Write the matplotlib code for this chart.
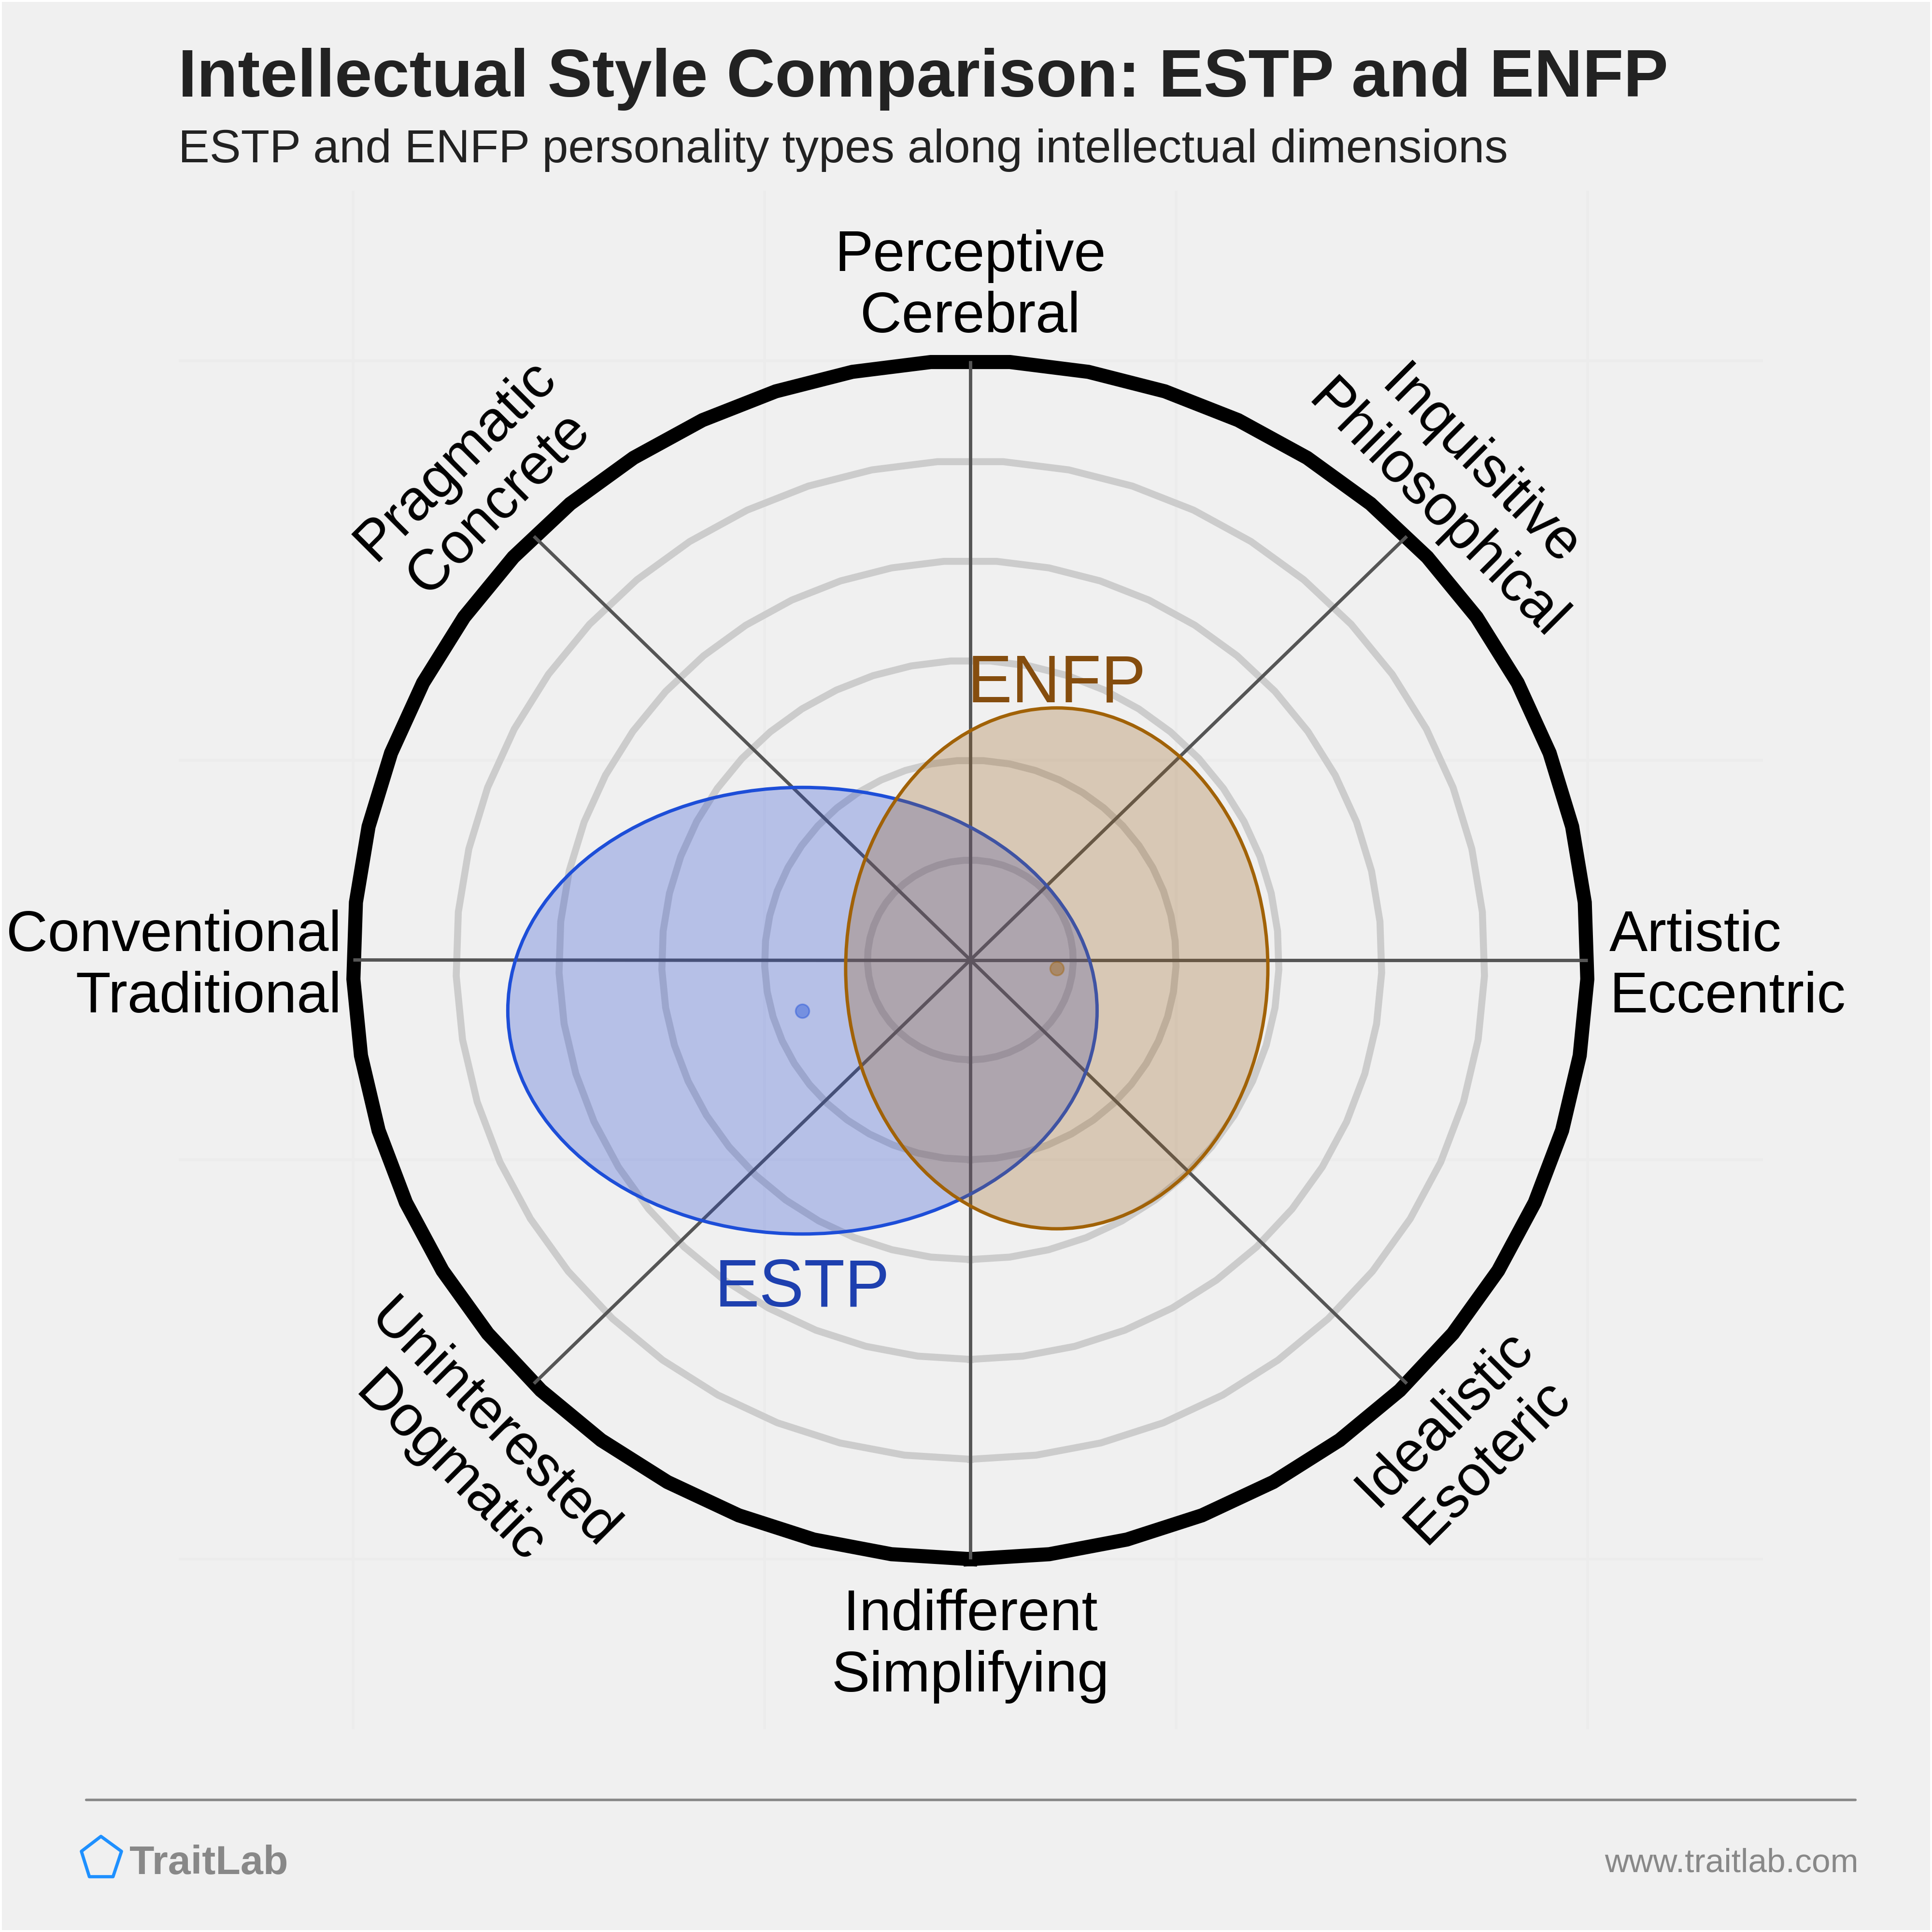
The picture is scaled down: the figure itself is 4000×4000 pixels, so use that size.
import numpy as np
import matplotlib
matplotlib.use("Agg")
import matplotlib.pyplot as plt
from matplotlib.patches import Ellipse, Polygon, Rectangle

plt.rcParams['font.family'] = ['Liberation Sans', 'DejaVu Sans']

title = "Intellectual Style Comparison: ESTP and ENFP"
subtitle = "ESTP and ENFP personality types along intellectual dimensions"
axis_labels = ["Artistic\nEccentric", "Inquisitive\nPhilosophical", "Perceptive\nCerebral",
               "Pragmatic\nConcrete", "Conventional\nTraditional", "Uninterested\nDogmatic",
               "Indifferent\nSimplifying", "Idealistic\nEsoteric"]
spoke_angles = [0, 45, 90, 135, 180, 225, 270, 315]
ring_levels = [0.25, 0.5, 0.75, 1.0, 1.25]
outer_level = 1.5
grid_ticks = [-1.5, -0.5, 0.5, 1.5]
types = ["ESTP", "ENFP"]
centers_x = [-0.408, 0.210]
centers_y = [-0.127, -0.021]
semi_x = [0.716, 0.513]
semi_y = [0.559, 0.652]
edge_colors = ["#1d4ed8", "#a16207"]
fill_colors = [(33/255, 69/255, 211/255, 0.28), (154/255, 97/255, 29/255, 0.28)]
text_colors = ["#1e40af", "#854d0e"]

W = 4000.0
CX, CY = 2009.0, 1987.5
UX, UY = 852.0, 827.0
L, R, T, B = 370.0, 3650.0, 395.0, 3580.0

fig = plt.figure(figsize=(10, 10), dpi=400, facecolor="white")
fig.add_artist(Rectangle((4/W, 4/W), 1-8/W, 1-8/W, transform=fig.transFigure,
                         facecolor="#f0f0f0", edgecolor="none", zorder=-10))
ax = fig.add_axes([L/W, 1-B/W, (R-L)/W, (B-T)/W])
ax.set_facecolor("none")
ax.set_xlim((L-CX)/UX, (R-CX)/UX)
ax.set_ylim((CY-B)/UY, (CY-T)/UY)
for s in ax.spines.values():
    s.set_visible(False)
ax.set_xticks(grid_ticks)
ax.set_yticks(grid_ticks)
ax.tick_params(length=0, labelbottom=False, labelleft=False)
ax.grid(True, color="#ececec", lw=1.0)
ax.set_axisbelow(True)

theta = np.linspace(-np.pi/2, 3*np.pi/2, 50)
for r in ring_levels:
    ax.plot(r*np.cos(theta), r*np.sin(theta), color="#cccccc", lw=2.6, zorder=2, clip_on=False)
ax.plot(outer_level*np.cos(theta), outer_level*np.sin(theta), color="black", lw=5.25, zorder=2,
        solid_joinstyle="miter", clip_on=False)
for a in spoke_angles:
    t = np.deg2rad(a)
    ax.plot([0, outer_level*np.cos(t)], [0, outer_level*np.sin(t)], color="#555555", lw=1.25,
            zorder=3, solid_capstyle="butt")

for i in range(2):
    ax.add_patch(Ellipse((centers_x[i], centers_y[i]), 2*semi_x[i], 2*semi_y[i],
                         facecolor=fill_colors[i],
                         edgecolor=edge_colors[i], lw=1.25, zorder=4+i))
    ax.scatter([centers_x[i]], [centers_y[i]], s=26, color=edge_colors[i], alpha=0.42, zorder=4+i,
               linewidths=0.6)

def d(px, py):
    return (px-CX)/UX, (CY-py)/UY

label_pos = [(3332, 2002, "left", 0), (3018, 1013, "center", -45), (2009, 594, "center", 0),
             (988, 998, "center", 45), (707, 2002, "right", 0), (975, 2996, "center", -45),
             (2009, 3408, "center", 0), (3036, 2982, "center", 45)]
for text, (px, py, ha, rot) in zip(axis_labels, label_pos):
    x, y = d(px, py)
    ax.text(x, y, text, ha=ha, va="center", rotation=rot, rotation_mode="anchor",
            fontsize=21.4, color="black", linespacing=1.186, zorder=6, multialignment=ha)

x, y = d(2188, 1454)
ax.text(x, y, types[1], ha="center", va="baseline", fontsize=25, color=text_colors[1], zorder=7)
x, y = d(1661, 2705)
ax.text(x, y, types[0], ha="center", va="baseline", fontsize=25, color=text_colors[0], zorder=7)

fig.text(369/W, 1-200/W, title, fontsize=25, fontweight="bold", color="#222222", va="baseline", ha="left")
fig.text(369/W, 1-336/W, subtitle, fontsize=17.5, color="#222222", va="baseline", ha="left")

fig.add_artist(plt.Line2D([178/W, 3841/W], [1-3726/W, 1-3726/W], color="#888888", lw=0.95,
                          solid_capstyle="round", transform=fig.transFigure))
pent = np.array([(209, 3802), (168.5, 3833), (185, 3885.5), (234, 3885.5), (251.5, 3833)], float)
fig.add_artist(Polygon(np.c_[pent[:, 0]/W, 1-pent[:, 1]/W], closed=True, facecolor="none",
                       edgecolor="#1e90ff", lw=1.2, transform=fig.transFigure, joinstyle="round"))
fig.text(268/W, 1-3880/W, "TraitLab", fontsize=15.2, fontweight="bold", color="#888888", va="baseline", ha="left")
fig.text(3848/W, 1-3875/W, "www.traitlab.com", fontsize=12.5, color="#888888", va="baseline", ha="right")

fig.savefig("out.png", dpi=400, facecolor="white")
